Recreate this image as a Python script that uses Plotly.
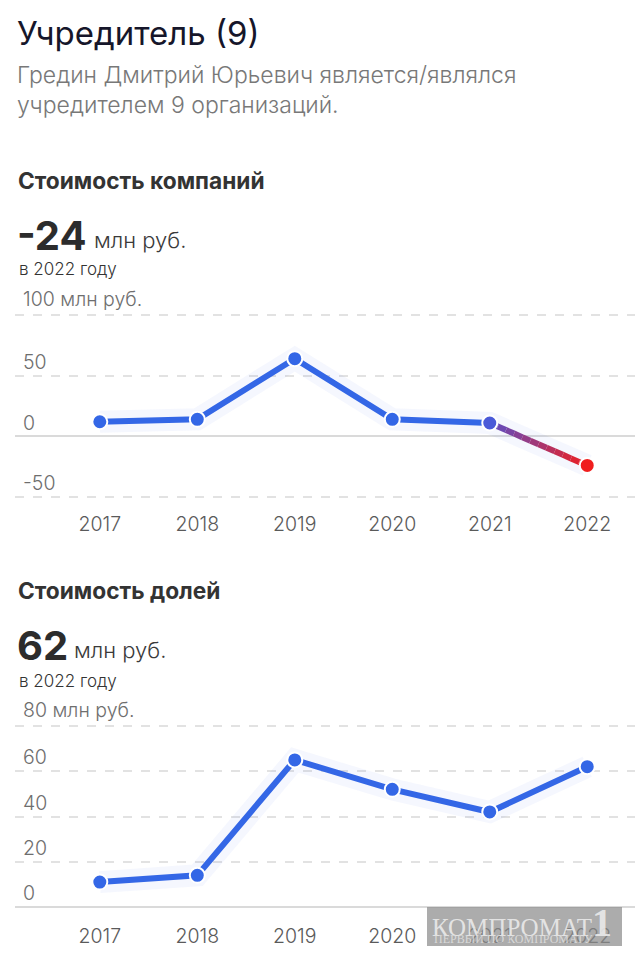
import plotly.graph_objects as go
import numpy as np

years = [2017, 2018, 2019, 2020, 2021, 2022]
company_values = [12, 14, 64, 14, 11, -24]
share_values = [11, 14, 65, 52, 42, 62]

company_ticks = [-50, 0, 50, 100]
company_ticktext = ["-50", "0", "50", ""]
company_top_label = "100 млн руб."
share_ticks = [0, 20, 40, 60, 80]
share_ticktext = ["0", "20", "40", "60", ""]
share_top_label = "80 млн руб."

title = "Учредитель (9)"
subtitle = "Гредин Дмитрий Юрьевич является/являлся<br>учредителем 9 организаций."
sec1 = "Стоимость компаний"
sec2 = "Стоимость долей"
big1 = "-24"
big2 = "62"
unit = "млн руб."
year_note = "в 2022 году"

W, H = 640, 962
BLUE = "#3467e6"
RED = "#f01e1e"
FONT = "Inter"

def py(p):
    return 1 - p / H

def px(p):
    return p / W

fig = go.Figure()

def add_series(xa, ya, vals, gradient_last=False):
    # soft glow under the line
    fig.add_trace(go.Scatter(x=years, y=vals, mode="lines", xaxis=xa, yaxis=ya,
                             line=dict(color="rgba(52,103,230,0.05)", width=22),
                             hoverinfo="skip", showlegend=False))
    n_main = len(years) - 1 if gradient_last else len(years)
    fig.add_trace(go.Scatter(x=years[:n_main], y=vals[:n_main], mode="lines", xaxis=xa, yaxis=ya,
                             line=dict(color=BLUE, width=6), showlegend=False))
    colors = [BLUE] * len(years)
    if gradient_last:
        x0, x1 = years[-2], years[-1]
        y0, y1 = vals[-2], vals[-1]
        c0 = np.array([92, 80, 200])
        c1 = np.array([240, 30, 30])
        steps = 12
        for i in range(steps):
            t0, t1 = i / steps, (i + 1) / steps
            tm = (t0 + t1) / 2
            c = (c0 + (c1 - c0) * tm).astype(int)
            fig.add_trace(go.Scatter(x=[x0 + (x1 - x0) * t0, x0 + (x1 - x0) * t1],
                                     y=[y0 + (y1 - y0) * t0, y0 + (y1 - y0) * t1],
                                     mode="lines", xaxis=xa, yaxis=ya,
                                     line=dict(color=f"rgb({c[0]},{c[1]},{c[2]})", width=6),
                                     showlegend=False, hoverinfo="skip"))
        colors[-1] = RED
        colors[-2] = "#4a5ad8"
    fig.add_trace(go.Scatter(x=years, y=vals, mode="markers", xaxis=xa, yaxis=ya,
                             marker=dict(size=15, color=colors, line=dict(color="white", width=2)),
                             showlegend=False))

add_series("x", "y", company_values, gradient_last=True)
add_series("x2", "y2", share_values)

xr = [2016.13, 2022.49]
xdom = [px(15), px(635)]
TICKFONT_X = dict(family=FONT, size=19.5, color="#5a5a5a", weight=300)
TICKFONT_Y = dict(family=FONT, size=19.5, color="#6e6e6e", weight=300)
axis_x = dict(range=xr, tickvals=years, showgrid=False, zeroline=False, showline=False,
              ticks="", tickfont=TICKFONT_X, domain=xdom, fixedrange=True)
axis_y = dict(showgrid=True, griddash="dash", gridcolor="#e2e2e2", gridwidth=1.5,
              zeroline=True, zerolinecolor="#dadada", zerolinewidth=1.5,
              ticklabelposition="inside top", ticks="", showline=False, ticklabelstandoff=5,
              tickfont=TICKFONT_Y, fixedrange=True)

# chart 1: 100 -> 315px, -50 -> 497px ; chart 2: 80 -> 726px, 0 -> 907px
k1 = (497 - 315) / 150.0
k2 = (907 - 726) / 80.0
fig.update_layout(
    width=W, height=H, margin=dict(l=0, r=0, t=0, b=0),
    paper_bgcolor="white", plot_bgcolor="white",
    font=dict(family=FONT),
    xaxis=dict(axis_x, anchor="y", ticklabelstandoff=5),
    yaxis=dict(axis_y, domain=[py(505), py(305)],
               range=[-50 - (505 - 497) / k1, 100 + (315 - 305) / k1],
               tickvals=company_ticks, ticktext=company_ticktext, anchor="x"),
    xaxis2=dict(axis_x, anchor="y2", ticklabelstandoff=5),
    yaxis2=dict(axis_y, domain=[py(917), py(716)],
                range=[0 - (917 - 907) / k2, 80 + (726 - 716) / k2],
                tickvals=share_ticks, ticktext=share_ticktext, anchor="x2"),
)

# unit labels on the top gridline
fig.add_annotation(text=company_top_label, x=px(21), xref="paper", y=company_ticks[-1], yref="y",
                   xanchor="left", yanchor="bottom", yshift=2, showarrow=False, font=TICKFONT_Y)
fig.add_annotation(text=share_top_label, x=px(21), xref="paper", y=share_ticks[-1], yref="y2",
                   xanchor="left", yanchor="bottom", yshift=2, showarrow=False, font=TICKFONT_Y)

def ann(text, x, y, size, color, weight=None, xanchor="left", yanchor="middle", family=FONT):
    f = dict(family=family, size=size, color=color)
    if weight:
        f["weight"] = weight
    fig.add_annotation(text=text, x=px(x), y=py(y), xref="paper", yref="paper",
                       xanchor=xanchor, yanchor=yanchor, showarrow=False, font=f, align="left")

ann(title, 15, 33, 33, "#16162a", weight=400)
fig.add_annotation(text=subtitle, x=px(15), y=py(90), xref="paper", yref="paper",
                   xanchor="left", yanchor="middle", showarrow=False, align="left",
                   font=dict(family=FONT, size=23, color="#787878", weight=300))
ann(sec1, 16, 180, 22.7, "#333333", weight=700)
ann(big1, 15, 235, 40, "#2c2c2c", weight=700)
ann(unit, 92, 240, 22, "#3a3a3a", weight=300)
ann(year_note, 17, 269, 17, "#333333", weight=300)
ann(sec2, 16, 590, 22.7, "#333333", weight=700)
ann(big2, 15, 645, 40, "#2c2c2c", weight=700)
ann(unit, 72, 650, 22, "#3a3a3a", weight=300)
ann(year_note, 17, 681, 17, "#333333", weight=300)

# watermark
fig.add_shape(type="rect", xref="paper", yref="paper", x0=px(427), x1=px(622), y0=py(946), y1=py(907),
              fillcolor="rgba(140,140,140,0.72)", line=dict(width=0), layer="above")
ann("КОМПРОМАТ<span style='font-size:40px'><b>1</b></span>", 430, 922, 25, "rgba(235,235,235,0.9)",
    family="Liberation Serif")
ann("ПЕРВЫЙ ПО КОМПРОМАТУ", 432, 939, 12, "rgba(225,225,225,0.85)", family="Liberation Serif")

fig.write_html("out.html")
